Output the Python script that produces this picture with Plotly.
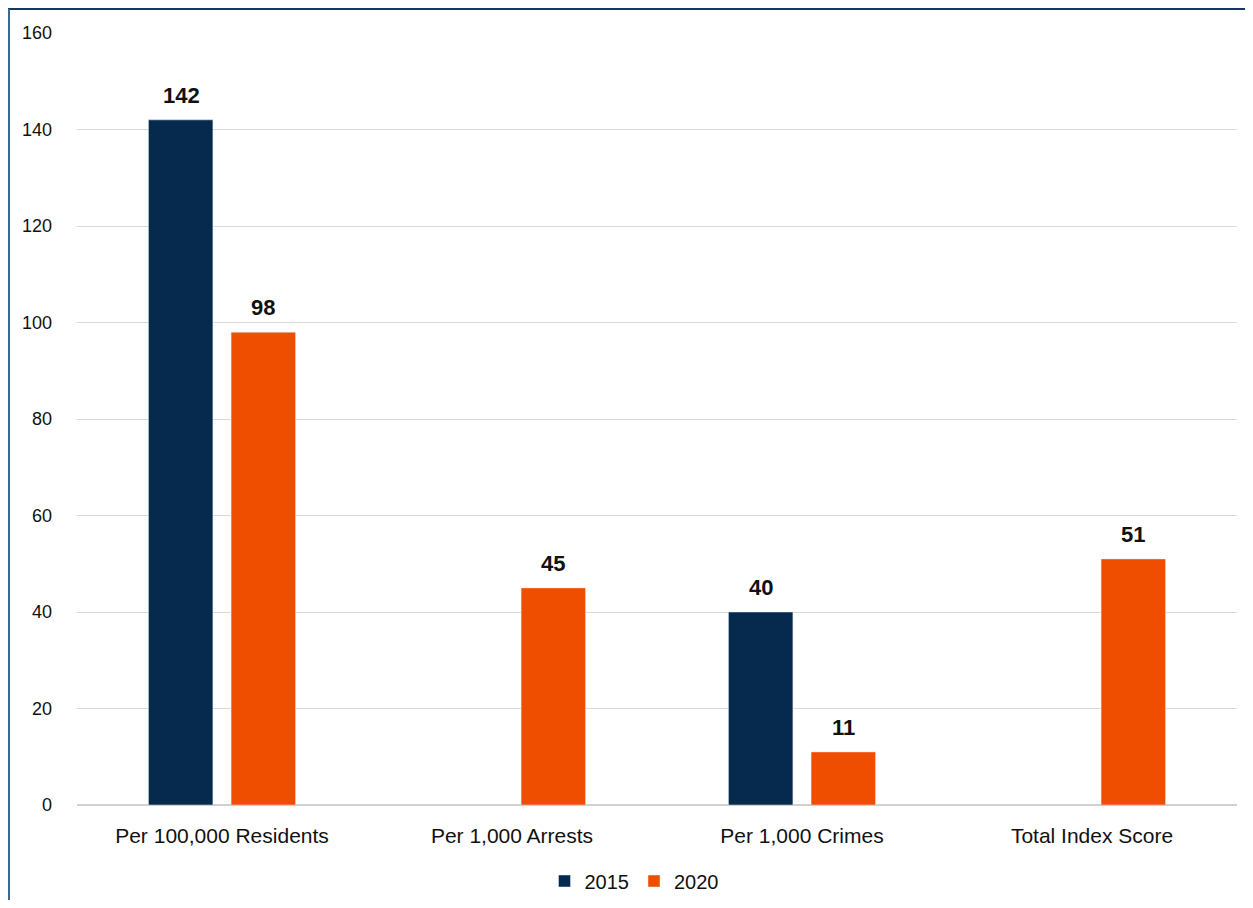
import plotly.graph_objects as go

categories = ["Per 100,000 Residents", "Per 1,000 Arrests", "Per 1,000 Crimes", "Total Index Score"]
values_2015 = [142, None, 40, None]
values_2020 = [98, 45, 11, 51]
y_ticks = [0, 20, 40, 60, 80, 100, 120, 140, 160]

C2015 = "#052a4e"
C2020 = "#ef4d00"

# The page keeps the browser's 8px body margin, so the figure is 16px smaller than the window.
OFF = 8
W, H = 1253 - 2 * OFF, 908 - 2 * OFF
L, T = 77 - OFF, 33 - OFF
R = W - (1237 - OFF)
B = H - (805 - OFF)
pw, ph = W - L - R, H - T - B

fig = go.Figure()
fig.add_trace(go.Bar(name="2015", x=categories, y=values_2015, marker_color=C2015))
fig.add_trace(go.Bar(name="2020", x=categories, y=values_2020, marker_color=C2020))

anns = []
for vals, shift in ((values_2015, -41), (values_2020, 41)):
    for c, v in zip(categories, vals):
        if v is None:
            continue
        anns.append(dict(x=c, y=v, xref="x", yref="y", text=f"<b>{v}</b>", showarrow=False,
                         yanchor="bottom", yshift=10, xshift=shift,
                         font=dict(size=22, color="#111111", family="Liberation Sans, Arial")))

# helpers converting page pixels to paper coordinates
def px_x(p):
    return (p - OFF - L) / pw

def px_y(p):
    return (H - B - (p - OFF)) / ph

shapes = [
    dict(type="line", xref="paper", yref="paper", x0=px_x(7), x1=px_x(1253), y0=px_y(9), y1=px_y(9),
         line=dict(color="#17375e", width=2)),
    dict(type="line", xref="paper", yref="paper", x0=px_x(9), x1=px_x(9), y0=px_y(9), y1=px_y(908),
         line=dict(color="#3a6a92", width=2)),
]

fig.update_layout(
    width=W, height=H,
    margin=dict(l=L, r=R, t=T, b=B, autoexpand=False),
    paper_bgcolor="white", plot_bgcolor="white",
    barmode="group", bargap=0.43, bargroupgap=0.22,
    font=dict(family="Liberation Sans, Arial", size=18, color="#111111"),
    showlegend=True,
    legend=dict(orientation="h", x=px_x(634), xanchor="center", y=px_y(881), yanchor="middle",
                font=dict(size=20), itemwidth=30, traceorder="normal"),
    annotations=anns,
    shapes=shapes,
)
fig.update_xaxes(showgrid=False, showline=False, ticks="", ticklabelstandoff=16,
                 tickfont=dict(size=21))
fig.update_yaxes(range=[0, 160], tickvals=y_ticks, showgrid=True, gridcolor="#d9d9d9", gridwidth=1,
                 zeroline=True, zerolinecolor="#d0d0d0", zerolinewidth=2, showline=False,
                 ticklabelstandoff=24, tickfont=dict(size=18))

fig.write_html("out.html", config={"displayModeBar": False})
